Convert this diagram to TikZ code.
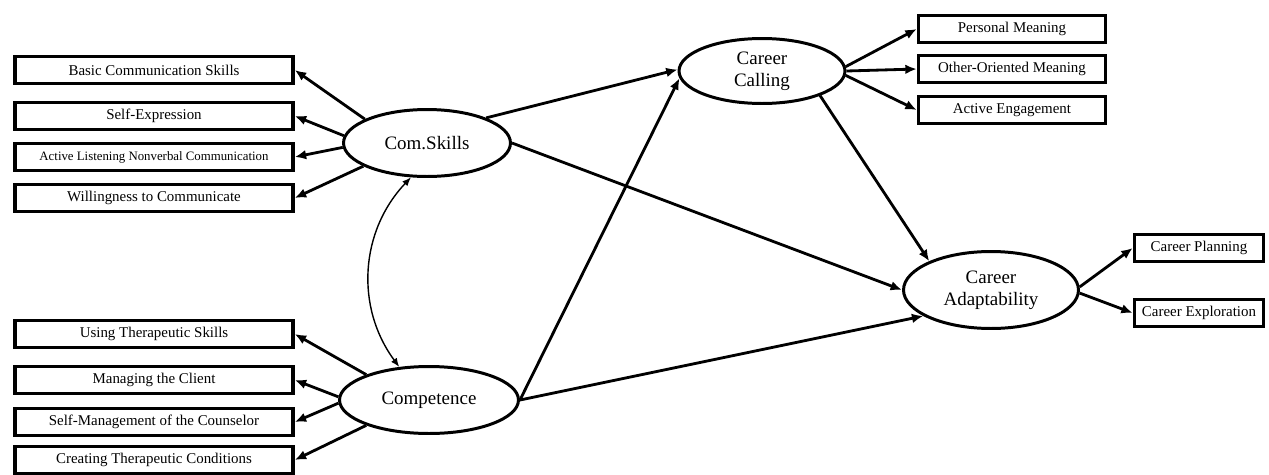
\documentclass[tikz,border=0pt]{standalone}
\usepackage{fontspec}
\setmainfont{Liberation Serif}
\usetikzlibrary{shapes.geometric,arrows.meta}

\begin{document}
\begin{tikzpicture}[x=0.02cm, y=-0.02cm,
  latent/.style={draw, ellipse, line width=1.7pt, inner sep=0pt, align=center,
    font=\fontsize{10.8}{12.5}\selectfont},
  obs/.style={draw, rectangle, line width=2pt, inner sep=0pt, minimum height=0.54cm,
    font=\fontsize{8.5}{10}\selectfont},
  link/.style={line width=1.6pt, -{Latex[length=6.5pt,width=5.5pt]}},
  cov/.style={line width=0.8pt, {Latex[length=5pt,width=4pt]}-{Latex[length=5pt,width=4pt]}}]
% Set the page size
\useasboundingbox (0,0) rectangle (1269,474);

% Latent variables
\node[latent, minimum width=3.34cm, minimum height=1.34cm] (cs) at (427,143) {Com.Skills};
\node[latent, minimum width=3.58cm, minimum height=1.34cm] (co) at (429,400) {Competence};
\node[latent, minimum width=3.32cm, minimum height=1.30cm] (cc) at (762,71) {Career\\Calling};
\node[latent, minimum width=3.50cm, minimum height=1.54cm] (ca) at (991,290) {Career\\Adaptability};

% Indicators on the left
\node[obs, minimum width=5.56cm] (bcs) at (154,70) {Basic Communication Skills};
\node[obs, minimum width=5.56cm] (se) at (154,116) {Self-Expression};
\node[obs, minimum width=5.56cm, font=\fontsize{7.3}{9}\selectfont] (al) at (154,157) {Active Listening Nonverbal Communication};
\node[obs, minimum width=5.56cm] (wc) at (154,198) {Willingness to Communicate};
\node[obs, minimum width=5.56cm] (uts) at (154,334) {Using Therapeutic Skills};
\node[obs, minimum width=5.56cm] (mc) at (154,380) {Managing the Client};
\node[obs, minimum width=5.56cm] (smc) at (154,422) {Self-Management of the Counselor};
\node[obs, minimum width=5.56cm] (ctc) at (154,460) {Creating Therapeutic Conditions};

% Indicators on the right
\node[obs, minimum width=3.74cm] (pm) at (1012,29) {Personal Meaning};
\node[obs, minimum width=3.74cm] (oom) at (1012,69) {Other-Oriented Meaning};
\node[obs, minimum width=3.74cm] (ae) at (1012,110) {Active Engagement};
\node[obs, minimum width=2.58cm] (cp) at (1199,248) {Career Planning};
\node[obs, minimum width=2.58cm] (ce) at (1199,313) {Career Exploration};

% Loadings
\draw[link] (cs.159) -- (bcs.east);
\draw[link] (cs.175) -- (se.east);
\draw[link] (cs.183) -- (al.east);
\draw[link] (cs.200) -- (wc.east);
\draw[link] (co.158) -- (uts.east);
\draw[link] (co.178) -- (mc.east);
\draw[link] (co.182) -- (smc.east);
\draw[link] (co.202) -- (ctc.east);
\draw[link] (cc.3) -- (pm.west);
\draw[link] (cc.east) -- (oom.west);
\draw[link] (cc.357) -- (ae.west);
\draw[link] (ca.2) -- (cp.west);
\draw[link] (ca.358) -- (ce.west);

% Structural paths
\draw[link] (cs.23) -- (cc.179);
\draw[link] (co.east) -- (cc.185);
\draw[link] (cs.east) -- (ca.west);
\draw[link] (co.east) -- (ca.201);
\draw[link] (cc.337) -- (ca.155);

% Covariance
\draw[cov] (co.132) to[bend left=40] (cs.245);
\end{tikzpicture}
\end{document}
